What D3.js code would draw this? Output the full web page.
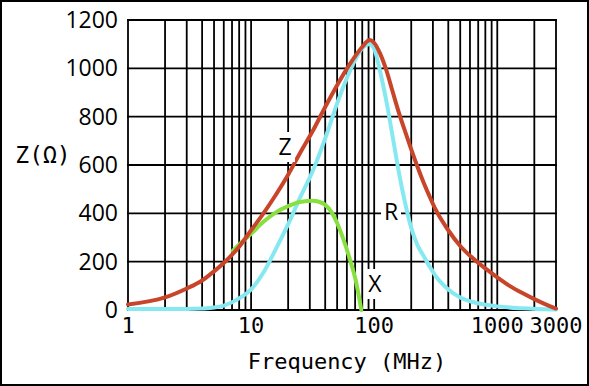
<!DOCTYPE html>
<html>
<head>
<meta charset="utf-8">
<script src="https://cdn.jsdelivr.net/npm/d3@7"></script>
<style>
  body { margin: 0; background: #fff; }
  svg { display: block; }
</style>
</head>
<body>
<div id="chart"></div>
<script>
// chart values (frequency in MHz, impedance in ohm)
var zFreq = [1, 2, 3, 4, 5, 6.3, 8, 10, 12.6, 15.8, 20, 25, 32, 40, 50, 63, 79, 92, 100, 112, 126, 141, 158, 178, 200, 224, 251, 282, 316, 400, 500, 630, 800, 1000, 1260, 1600, 2000, 2500, 3000]
var zVal  = [23, 52, 89, 122, 160, 205, 262, 330, 400, 475, 560, 650, 745, 840, 930, 1015, 1085, 1117, 1105, 1060, 990, 905, 820, 740, 665, 595, 530, 470, 415, 330, 265, 215, 172, 135, 100, 70, 45, 22, 6]

var rFreq = [1, 2, 3, 4, 5, 6, 8, 10, 12.6, 15.8, 20, 25, 32, 40, 50, 63, 71, 79, 92, 100, 112, 126, 141, 158, 178, 200, 224, 251, 282, 316, 400, 500, 630, 800, 1000, 1600, 3000]
var rVal  = [4, 4, 4, 6, 10, 18, 48, 85, 155, 250, 355, 465, 580, 710, 855, 985, 1040, 1080, 1100, 1080, 985, 860, 720, 575, 445, 340, 270, 225, 180, 140, 85, 52, 33, 22, 15, 7, 2]

var xFreq = [7.1, 7.9, 10, 12.6, 15.8, 20, 25, 32, 35.5, 40, 45, 50, 56, 63, 71, 78.6]
var xVal  = [245, 268, 315, 365, 403, 430, 447, 452, 448, 435, 405, 360, 295, 215, 120, 0]

var xTickLabels = [1, 10, 100, 1000, 3000]
var yTicks = [0, 200, 400, 600, 800, 1000, 1200]

var width = 589
height = 386

var svg = d3.select("#chart")
    .append("svg")
    .attr("width", width)
    .attr("height", height)

var x = d3.scaleLog().domain([1, 3000]).range([128, 556])
var y = d3.scaleLinear().domain([0, 1200]).range([310, 20])

// outer frame
svg.append("rect")
    .attr("x", 1).attr("y", 1)
    .attr("width", width - 2).attr("height", height - 2)
    .attr("fill", "none")
    .attr("stroke", "#000")
    .attr("stroke-width", 2)

// grid: every log tick vertically, every 200 horizontally
var grid = svg.append("g").attr("stroke", "#000").attr("stroke-width", 1.8)
grid.selectAll("line.v")
    .data(x.ticks())
    .enter().append("line")
    .attr("x1", d => x(d)).attr("x2", d => x(d))
    .attr("y1", y(0)).attr("y2", y(1200))
grid.selectAll("line.h")
    .data(yTicks)
    .enter().append("line")
    .attr("x1", x(1) - 1).attr("x2", x(3000) + 1)
    .attr("y1", d => y(d)).attr("y2", d => y(d))

// tick labels
svg.selectAll("text.ytick")
    .data(yTicks)
    .enter().append("text")
    .attr("x", 118)
    .attr("y", d => y(d) + 8)
    .attr("text-anchor", "end")
    .style("font-family", "'Open Sans'")
    .style("font-size", "23px")
    .text(d => d)

svg.selectAll("text.xtick")
    .data(xTickLabels)
    .enter().append("text")
    .attr("x", d => x(d))
    .attr("y", 333)
    .attr("text-anchor", "middle")
    .style("font-family", "'DejaVu Sans Mono'")
    .style("font-size", "22px")
    .text(d => d)

svg.append("text")
    .attr("x", 347).attr("y", 369)
    .attr("text-anchor", "middle")
    .style("font-family", "'DejaVu Sans Mono'")
    .style("font-size", "22px")
    .text("Frequency (MHz)")

svg.append("text")
    .attr("x", 43).attr("y", 163)
    .attr("text-anchor", "middle")
    .style("font-family", "'DejaVu Sans Mono'")
    .style("font-size", "23px")
    .text("Z(Ω)")

// curves
var line = d3.line()
    .x(d => x(d[0]))
    .y(d => y(d[1]))
    .curve(d3.curveMonotoneX)

var series = [
    {f: rFreq, v: rVal, color: "#86e9f1"},
    {f: xFreq, v: xVal, color: "#88e040"},
    {f: zFreq, v: zVal, color: "#c8452a"}
]
svg.selectAll("path.curve")
    .data(series)
    .enter().append("path")
    .attr("d", s => line(d3.zip(s.f, s.v)))
    .attr("fill", "none")
    .attr("stroke", s => s.color)
    .attr("stroke-width", 4)
    .attr("stroke-linecap", "round")

// curve names sit on white patches that cut the grid
var names = [
    {t: "Z", cx: 285, cy: 147},
    {t: "R", cx: 391, cy: 212},
    {t: "X", cx: 375, cy: 284}
]
var lab = svg.selectAll("g.name")
    .data(names)
    .enter().append("g")
lab.append("rect")
    .attr("x", d => d.cx - 10).attr("y", d => d.cy - 15)
    .attr("width", 20).attr("height", 30)
    .attr("fill", "#fff")
lab.append("text")
    .attr("x", d => d.cx).attr("y", d => d.cy + 8)
    .attr("text-anchor", "middle")
    .style("font-family", "'Open Sans'")
    .style("font-size", "23px")
    .text(d => d.t)
</script>
</body>
</html>
